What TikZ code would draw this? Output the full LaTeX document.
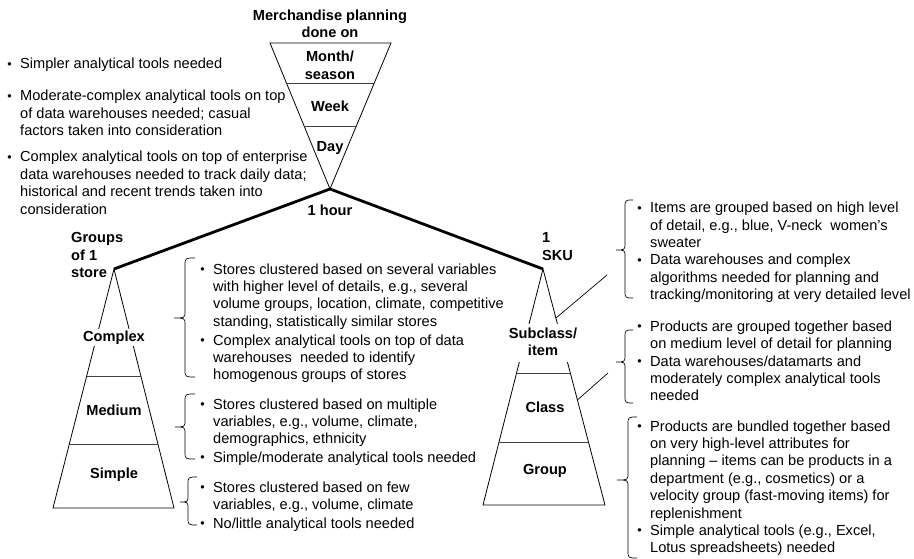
\documentclass[tikz,border=0pt]{standalone}
\usepackage{fontspec}
\setmainfont{Liberation Sans}
\usetikzlibrary{calc}
\newcommand{\fs}{\fontsize{14.6pt}{17.4pt}\selectfont}
\newcommand{\bul}{\llap{\raisebox{0.8pt}{\fontsize{12.5pt}{12.5pt}\selectfont\textbullet}\hspace{8.5pt}}}
\newcommand{\Lrows}[1]{\begin{tabular}[t]{@{}l@{}}#1\end{tabular}}
\newcommand{\Crows}[1]{\begin{tabular}[t]{@{}c@{}}#1\end{tabular}}
\newcommand{\mybrace}[6]{%
  \draw[bracestyle] (#1,#4) .. controls (#2,#4) .. (#2,{#4+8})
    -- (#2,{#6-7}) .. controls (#2,#6) .. (#3,#6)
    .. controls (#2,#6) .. (#2,{#6+7})
    -- (#2,{#5-8}) .. controls (#2,#5) .. (#1,#5);}
\tikzset{
  every node/.style={font=\fs},
  lab/.style={font=\fs\bfseries, inner sep=1pt, anchor=base},
  labw/.style={lab, fill=white, inner xsep=3pt, inner ysep=1.5pt},
  txt/.style={anchor=base west, inner sep=0pt},
  shape line/.style={line width=0.8pt, line join=miter},
  divider/.style={line width=0.8pt, black!75},
  heavy/.style={line width=2.8pt, line join=round},
  leader/.style={line width=0.7pt},
  bracestyle/.style={line width=0.7pt}
}
\begin{document}
\begin{tikzpicture}[x=1pt,y=-1pt]
\useasboundingbox (0,0) rectangle (914,559);
% ---------- top inverted triangle ----------
\coordinate (tl) at (270,43);
\coordinate (tr) at (391,43);
\coordinate (hour) at (330,189);
\draw[shape line] (tl) -- (tr) -- (hour) -- cycle;
\draw[divider] ($(tl)!0.274!(hour)$) -- ($(tr)!0.274!(hour)$);
\draw[divider] ($(tl)!0.568!(hour)$) -- ($(tr)!0.568!(hour)$);
% ---------- left triangle (stores) ----------
\coordinate (sa) at (114,269);
\coordinate (sl) at (53,508);
\coordinate (sr) at (174,508);
\draw[shape line] (sa) -- (sl) -- (sr) -- cycle;
\draw[divider] ($(sa)!0.448!(sl)$) -- ($(sa)!0.448!(sr)$);
\draw[divider] ($(sa)!0.732!(sl)$) -- ($(sa)!0.732!(sr)$);
% ---------- right triangle (products) ----------
\coordinate (pa) at (543,269);
\coordinate (pl) at (483,505);
\coordinate (pr) at (605,505);
\draw[shape line] (pa) -- (pl) -- (pr) -- cycle;
\draw[divider] ($(pa)!0.441!(pl)$) -- ($(pa)!0.441!(pr)$);
\draw[divider] ($(pa)!0.733!(pl)$) -- ($(pa)!0.733!(pr)$);
% ---------- heavy branches ----------
\draw[heavy] (sa) -- (hour) -- (pa);
% ---------- leaders ----------
\coordinate (la1) at ($(pa)!0.208!(pr)$);
\coordinate (la2) at (607,275);
\coordinate (lb1) at ($(pa)!0.555!(pr)$);
\coordinate (lb2) at (608,373);
\draw[leader] (la1) -- (la2);
\draw[leader] (lb1) -- (lb2);
% ---------- labels ----------
\node[lab] (title) at (330,20.5) {\Crows{Merchandise planning\\done on}};
\node[lab] (month) at (330,62) {\Crows{Month/\\season}};
\node[lab] (week) at (330,112) {Week};
\node[lab] (day) at (330,152) {Day};
\node[lab] (hourlab) at (330,215) {1 hour};
\node[lab, anchor=base west] (groups) at (70,243) {\Lrows{Groups\\of 1\\store}};
\node[lab, anchor=base west] (sku) at (541,243) {\Lrows{1\\SKU}};
\node[labw] (complex) at (114,341) {Complex};
\node[labw] (medium) at (114,415) {Medium};
\node[labw] (simple) at (114,478) {Simple};
\node[labw] (subclass) at (543,338) {\Crows{Subclass/\\item}};
\node[labw] (class) at (545,412) {Class};
\node[labw] (group) at (545,474) {Group};
% ---------- top-left notes ----------
\node[txt] (t1) at (20,69) {\bul Simpler analytical tools needed};
\node[txt] (t2) at (20,101) {\Lrows{\bul Moderate-complex analytical tools on top\\of data warehouses needed; casual\\factors taken into consideration}};
\node[txt] (t3) at (20,162) {\Lrows{\bul Complex analytical tools on top of enterprise\\data warehouses needed to track daily data;\\historical and recent trends taken into\\consideration}};
% ---------- store notes ----------
\node[txt] (c1) at (213,274) {\Lrows{\bul Stores clustered based on several variables\\with higher level of details, e.g., several\\volume groups, location, climate, competitive\\standing, statistically similar stores}};
\node[txt] (c2) at (213,345) {\Lrows{\bul Complex analytical tools on top of data\\warehouses\ \ needed to identify\\homogenous groups of stores}};
\node[txt] (m1) at (213,409) {\Lrows{\bul Stores clustered based on multiple\\variables, e.g., volume, climate,\\demographics, ethnicity}};
\node[txt] (m2) at (213,462) {\bul Simple/moderate analytical tools needed};
\node[txt] (s1) at (213,492) {\Lrows{\bul Stores clustered based on few\\variables, e.g., volume, climate}};
\node[txt] (s2) at (213,528) {\bul No/little analytical tools needed};
% ---------- product notes ----------
\node[txt] (a1) at (650,213) {\Lrows{\bul Items are grouped based on high level\\of detail, e.g., blue, V-neck\ \ women’s\\sweater}};
\node[txt] (a2) at (650,265) {\Lrows{\bul Data warehouses and complex\\algorithms needed for planning and\\tracking/monitoring at very detailed level}};
\node[txt] (b1) at (650,331) {\Lrows{\bul Products are grouped together based\\on medium level of detail for planning}};
\node[txt] (b2) at (650,366) {\Lrows{\bul Data warehouses/datamarts and\\moderately complex analytical tools\\needed}};
\node[txt] (g1) at (650,431) {\Lrows{\bul Products are bundled together based\\on very high-level attributes for\\planning -- items can be products in a\\department (e.g., cosmetics) or a\\velocity group (fast-moving items) for\\replenishment}};
\node[txt] (g2) at (650,535) {\Lrows{\bul Simple analytical tools (e.g., Excel,\\Lotus spreadsheets) needed}};
% ---------- braces ----------
\mybrace{195}{185}{174}{258}{377}{318}
\mybrace{195}{185}{175}{394}{459}{427}
\mybrace{197}{188}{180}{477}{525}{502}
\mybrace{633}{625}{616}{200}{298}{250}
\mybrace{633}{625}{616}{330}{403}{362}
\mybrace{637}{628}{617}{417}{558}{480}
\end{tikzpicture}
\end{document}
